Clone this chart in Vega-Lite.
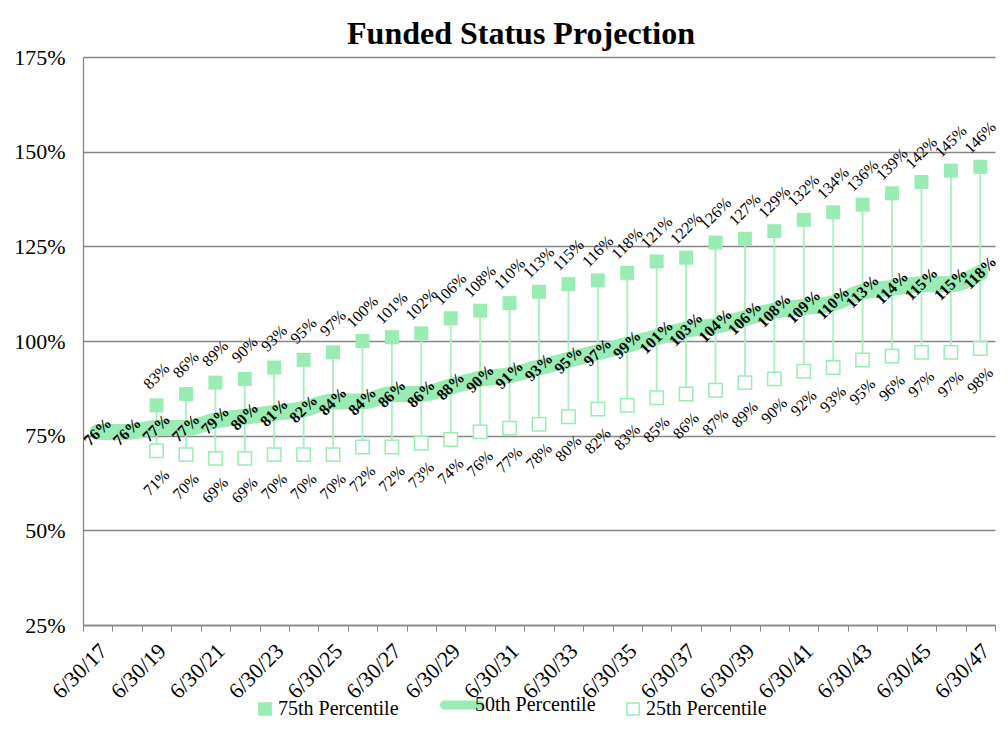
{
  "$schema": "https://vega.github.io/schema/vega-lite/v6.json",
  "width": 912,
  "height": 568,
  "autosize": {"type": "none"},
  "padding": {"left": 83, "top": 57, "right": 13, "bottom": 106},
  "background": "white",
  "title": {
    "text": "Funded Status Projection",
    "font": "Liberation Serif",
    "fontSize": 32,
    "fontWeight": "bold",
    "color": "black",
    "anchor": "middle",
    "dx": -18,
    "offset": -5
  },
  "config": {
    "view": {"stroke": null},
    "font": "Liberation Serif"
  },
  "data": {
    "values": [
      {"year": 2017, "p25": null, "p50": 0.76, "p75": null},
      {"year": 2018, "p25": null, "p50": 0.76, "p75": null},
      {"year": 2019, "p25": 0.71, "p50": 0.77, "p75": 0.83},
      {"year": 2020, "p25": 0.70, "p50": 0.77, "p75": 0.86},
      {"year": 2021, "p25": 0.69, "p50": 0.79, "p75": 0.89},
      {"year": 2022, "p25": 0.69, "p50": 0.80, "p75": 0.90},
      {"year": 2023, "p25": 0.70, "p50": 0.81, "p75": 0.93},
      {"year": 2024, "p25": 0.70, "p50": 0.82, "p75": 0.95},
      {"year": 2025, "p25": 0.70, "p50": 0.84, "p75": 0.97},
      {"year": 2026, "p25": 0.72, "p50": 0.84, "p75": 1.00},
      {"year": 2027, "p25": 0.72, "p50": 0.86, "p75": 1.01},
      {"year": 2028, "p25": 0.73, "p50": 0.86, "p75": 1.02},
      {"year": 2029, "p25": 0.74, "p50": 0.88, "p75": 1.06},
      {"year": 2030, "p25": 0.76, "p50": 0.90, "p75": 1.08},
      {"year": 2031, "p25": 0.77, "p50": 0.91, "p75": 1.10},
      {"year": 2032, "p25": 0.78, "p50": 0.93, "p75": 1.13},
      {"year": 2033, "p25": 0.80, "p50": 0.95, "p75": 1.15},
      {"year": 2034, "p25": 0.82, "p50": 0.97, "p75": 1.16},
      {"year": 2035, "p25": 0.83, "p50": 0.99, "p75": 1.18},
      {"year": 2036, "p25": 0.85, "p50": 1.01, "p75": 1.21},
      {"year": 2037, "p25": 0.86, "p50": 1.03, "p75": 1.22},
      {"year": 2038, "p25": 0.87, "p50": 1.04, "p75": 1.26},
      {"year": 2039, "p25": 0.89, "p50": 1.06, "p75": 1.27},
      {"year": 2040, "p25": 0.90, "p50": 1.08, "p75": 1.29},
      {"year": 2041, "p25": 0.92, "p50": 1.09, "p75": 1.32},
      {"year": 2042, "p25": 0.93, "p50": 1.10, "p75": 1.34},
      {"year": 2043, "p25": 0.95, "p50": 1.13, "p75": 1.36},
      {"year": 2044, "p25": 0.96, "p50": 1.14, "p75": 1.39},
      {"year": 2045, "p25": 0.97, "p50": 1.15, "p75": 1.42},
      {"year": 2046, "p25": 0.97, "p50": 1.15, "p75": 1.45},
      {"year": 2047, "p25": 0.98, "p50": 1.18, "p75": 1.46}
    ]
  },
  "encoding": {
    "x": {
      "field": "year",
      "type": "quantitative",
      "scale": {"domain": [2016.5, 2047.5], "nice": false, "zero": false},
      "axis": {
        "title": null,
        "values": [2016.5, 2017.5, 2018.5, 2019.5, 2020.5, 2021.5, 2022.5, 2023.5, 2024.5, 2025.5, 2026.5, 2027.5, 2028.5, 2029.5, 2030.5, 2031.5, 2032.5, 2033.5, 2034.5, 2035.5, 2036.5, 2037.5, 2038.5, 2039.5, 2040.5, 2041.5, 2042.5, 2043.5, 2044.5, 2045.5, 2046.5, 2047.5],
        "labelExpr": "((datum.value - 2016.5) % 2 == 0 && datum.value < 2047) ? '6/30/' + (datum.value + 0.5 - 2000) : ''",
        "labelOffset": 20,
        "labelAngle": -45,
        "labelAlign": "right",
        "labelBaseline": "middle",
        "labelPadding": 16,
        "labelFont": "Liberation Serif",
        "labelFontSize": 22,
        "labelColor": "black",
        "labelFlush": false,
        "labelOverlap": false,
        "labelBound": false,
        "grid": false,
        "ticks": true,
        "tickSize": 6,
        "tickColor": "#868686",
        "domainColor": "#868686",
        "domainWidth": 1.3
      }
    }
  },
  "layer": [
    {
      "transform": [{"filter": "datum.p75 != null"}],
      "mark": {"type": "rule", "color": "#a8efc2", "strokeWidth": 1.8},
      "encoding": {
        "y": {
          "field": "p25",
          "type": "quantitative",
          "scale": {"domain": [0.25, 1.75], "nice": false, "zero": false},
          "axis": {
            "title": null,
            "values": [0.25, 0.5, 0.75, 1.0, 1.25, 1.5, 1.75],
            "format": ".0%",
            "labelFont": "Liberation Serif",
            "labelFontSize": 22,
            "labelColor": "black",
            "labelPadding": 18,
            "ticks": false,
            "grid": true,
            "gridColor": "#868686",
            "gridWidth": 1.3,
            "domainColor": "#868686",
            "domainWidth": 1.3,
            "labelFlush": false
          }
        },
        "y2": {"field": "p75"}
      }
    },
    {
      "mark": {"type": "line", "strokeWidth": 16, "strokeCap": "round", "strokeJoin": "round", "interpolate": "monotone"},
      "encoding": {
        "y": {"field": "p50", "type": "quantitative"},
        "color": {
          "datum": "50th Percentile",
          "scale": {
            "domain": ["75th Percentile", "50th Percentile", "25th Percentile"],
            "range": ["#99edb4", "#99edb4", "#99edb4"]
          },
          "legend": {
            "orient": "none",
            "legendX": 172,
            "legendY": 638,
            "direction": "horizontal",
            "title": null,
            "labelFont": "Liberation Serif",
            "labelFontSize": 20,
            "labelColor": "black",
            "labelOffset": 3,
            "symbolSize": 1225,
            "columnPadding": 27,
            "encode": {
              "symbols": {
                "update": {
                  "shape": {"signal": "datum.value === '50th Percentile' ? 'stroke' : 'square'"},
                  "fill": {"signal": "datum.value === '25th Percentile' ? '#ffffff' : '#99edb4'"},
                  "fillOpacity": {"signal": "datum.value === '25th Percentile' ? 0 : 1"},
                  "stroke": {"value": "#99edb4"},
                  "strokeWidth": {"signal": "datum.value === '50th Percentile' ? 9 : 1.5"},
                  "strokeCap": {"value": "round"},
                  "size": {"signal": "datum.value === '50th Percentile' ? 1225 : 150"},
                  "opacity": {"value": 1}
                }
              }
            }
          }
        }
      }
    },
    {
      "transform": [{"filter": "datum.p75 != null"}],
      "mark": {"type": "point", "shape": "square", "filled": true, "size": 196, "opacity": 1},
      "encoding": {
        "y": {"field": "p75", "type": "quantitative"},
        "color": {"datum": "75th Percentile"}
      }
    },
    {
      "transform": [{"filter": "datum.p25 != null"}],
      "mark": {"type": "point", "shape": "square", "filled": false, "size": 180, "strokeWidth": 1.5, "opacity": 1, "fill": "white"},
      "encoding": {
        "y": {"field": "p25", "type": "quantitative"},
        "color": {"datum": "25th Percentile"}
      }
    },
    {
      "transform": [{"filter": "datum.p75 != null"}],
      "mark": {"type": "text", "angle": -45, "fontSize": 16, "font": "Liberation Serif", "color": "black", "yOffset": -29, "align": "center", "baseline": "middle"},
      "encoding": {
        "y": {"field": "p75", "type": "quantitative"},
        "text": {"field": "p75", "type": "quantitative", "format": ".0%"}
      }
    },
    {
      "mark": {"type": "text", "angle": -45, "fontSize": 16, "font": "Liberation Serif", "fontWeight": "bold", "color": "black", "align": "center", "baseline": "middle"},
      "encoding": {
        "y": {"field": "p50", "type": "quantitative"},
        "text": {"field": "p50", "type": "quantitative", "format": ".0%"}
      }
    },
    {
      "transform": [{"filter": "datum.p25 != null"}],
      "mark": {"type": "text", "angle": -45, "fontSize": 16, "font": "Liberation Serif", "color": "black", "yOffset": 32, "align": "center", "baseline": "middle"},
      "encoding": {
        "y": {"field": "p25", "type": "quantitative"},
        "text": {"field": "p25", "type": "quantitative", "format": ".0%"}
      }
    }
  ]
}
